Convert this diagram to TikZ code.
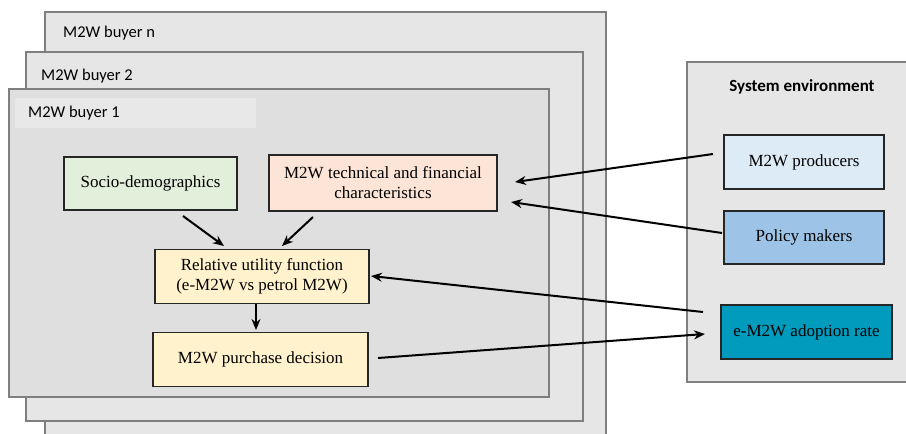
\documentclass[tikz,border=0pt]{standalone}
\usepackage{fontspec}
\setmainfont{Liberation Serif}
\newfontfamily\labfont{Carlito}
\usetikzlibrary{arrows.meta}
\definecolor{panelfill}{HTML}{E6E6E6}
\definecolor{panelone}{HTML}{DFDFDF}
\definecolor{panelline}{HTML}{7F7F7F}
\definecolor{bandfill}{HTML}{E8E8E8}
\definecolor{greenfill}{HTML}{E2EFDA}
\definecolor{peachfill}{HTML}{FCE4D6}
\definecolor{yellowfill}{HTML}{FFF2CC}
\definecolor{lightblue}{HTML}{DDEBF7}
\definecolor{midblue}{HTML}{9DC3E6}
\definecolor{tealfill}{HTML}{009BBD}
\tikzset{
  panel/.style={draw=panelline, line width=1.5pt, fill=panelfill},
  plab/.style={anchor=west, font=\labfont\fontsize{16.5}{19}\selectfont, inner sep=0pt},
  box/.style={draw=black!85, line width=1.6pt, align=center, inner sep=0pt,
              font=\fontsize{17}{21}\selectfont},
  arr/.style={-{Stealth[length=11pt,width=9pt]}, line width=2pt, black},
}
\begin{document}
\begin{tikzpicture}[x=1pt,y=-1pt]
\useasboundingbox (0,0) rectangle (906,434);
% buyer panels
\draw[panel] (45,12) rectangle (606,440);
\node[plab] (ln) at (63,33) {M2W buyer n};
\draw[panel] (26,52) rectangle (583,421);
\node[plab] (l2) at (41,76) {M2W buyer 2};
\draw[panel, fill=panelone] (9,89) rectangle (549,397);
\fill[bandfill] (15,98) rectangle (256,128);
\node[plab] (l1) at (28,113.5) {M2W buyer 1};
% system environment
\draw[panel] (687,62) rectangle (912,382);
\node[font=\labfont\bfseries\fontsize{17}{20}\selectfont, inner sep=0pt] (se) at (802,87) {System environment};
% boxes
\node[box, fill=greenfill, minimum width=173pt, minimum height=53pt] (soc) at (150.5,183.5) {Socio-demographics};
\node[box, fill=peachfill, minimum width=228pt, minimum height=56pt] (tech) at (383,183) {M2W technical and financial\\[-1pt]characteristics};
\node[box, fill=yellowfill, minimum width=214pt, minimum height=54pt] (rel) at (262,276.5) {Relative utility function\\[-1pt](e-M2W vs petrol M2W)};
\node[box, fill=yellowfill, minimum width=215pt, minimum height=54pt] (pur) at (260.5,359.5) {M2W purchase decision};
\node[box, fill=lightblue, minimum width=160pt, minimum height=54pt] (prod) at (804,162) {M2W producers};
\node[box, fill=midblue, minimum width=160pt, minimum height=53pt] (pol) at (804,237.5) {Policy makers};
\node[box, fill=tealfill, minimum width=171pt, minimum height=54pt] (ado) at (806.5,332) {e-M2W adoption rate};
% connector end points
\coordinate (a1s) at (183,216); \coordinate (a1e) at (224,246);
\coordinate (a2s) at (313,217); \coordinate (a2e) at (282,246);
\coordinate (a3s) at (256,304); \coordinate (a3e) at (256,330);
\coordinate (a4s) at (713,154); \coordinate (a4e) at (515,182);
\coordinate (a5s) at (722,233); \coordinate (a5e) at (511,202);
\coordinate (a6s) at (703,312); \coordinate (a6e) at (371,276);
\coordinate (a7s) at (378,358); \coordinate (a7e) at (705,334);
\draw[arr] (a1s) -- (a1e);
\draw[arr] (a2s) -- (a2e);
\draw[arr] (a3s) -- (a3e);
\draw[arr] (a4s) -- (a4e);
\draw[arr] (a5s) -- (a5e);
\draw[arr] (a6s) -- (a6e);
\draw[arr] (a7s) -- (a7e);
\end{tikzpicture}
\end{document}
